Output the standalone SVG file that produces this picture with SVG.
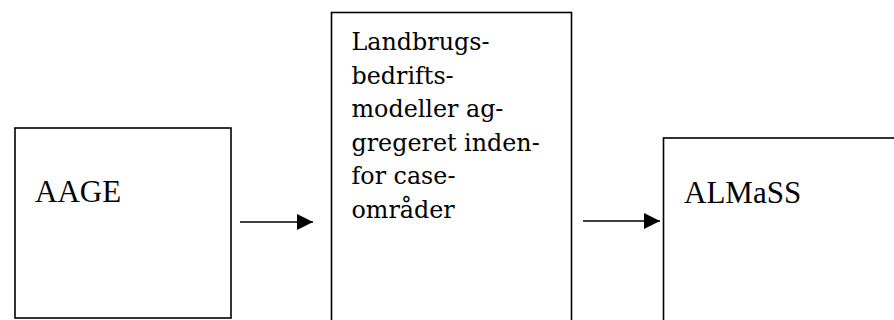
<svg xmlns="http://www.w3.org/2000/svg" width="894" height="320" viewBox="0 0 894 320">
  <style>
    .box { fill: #ffffff; stroke: #000000; stroke-width: 1.6; }
    .label { font-family: "Liberation Serif", "Times New Roman", serif; font-size: 31px; fill: #000000; }
    .body { font-family: "DejaVu Serif", "Liberation Serif", serif; font-size: 23.8px; fill: #000000; }
    .link { stroke: #000000; stroke-width: 1.6; fill: none; marker-end: url(#head); }
  </style>
  <defs>
    <marker id="head" viewBox="0 0 16 16" refX="16" refY="8" markerWidth="16" markerHeight="16" markerUnits="userSpaceOnUse" orient="auto">
      <path d="M0,0 L16,8 L0,16 Z" fill="#000000"/>
    </marker>
  </defs>
  <rect width="894" height="320" fill="#ffffff"/>

  <g id="node-aage">
    <rect class="box" x="15" y="128" width="216" height="190"/>
    <text class="label" x="35" y="202">AAGE</text>
  </g>

  <g id="node-landbrug">
    <rect class="box" x="331.5" y="12.5" width="240" height="320"/>
    <text class="body">
      <tspan x="351.5" y="50">Landbrugs-</tspan>
      <tspan x="351.5" y="83.6">bedrifts-</tspan>
      <tspan x="351.5" y="117.2">modeller ag-</tspan>
      <tspan x="351.5" y="150.8">gregeret inden-</tspan>
      <tspan x="351.5" y="184.4">for case-</tspan>
      <tspan x="351.5" y="218">områder</tspan>
    </text>
  </g>

  <g id="node-almass">
    <rect class="box" x="663.5" y="138" width="260" height="210"/>
    <text class="label" x="684" y="203">ALMaSS</text>
  </g>

  <g id="connectors">
    <line class="link" x1="240" y1="222" x2="313" y2="222"/>
    <line class="link" x1="583" y1="221" x2="660" y2="221"/>
  </g>
</svg>
